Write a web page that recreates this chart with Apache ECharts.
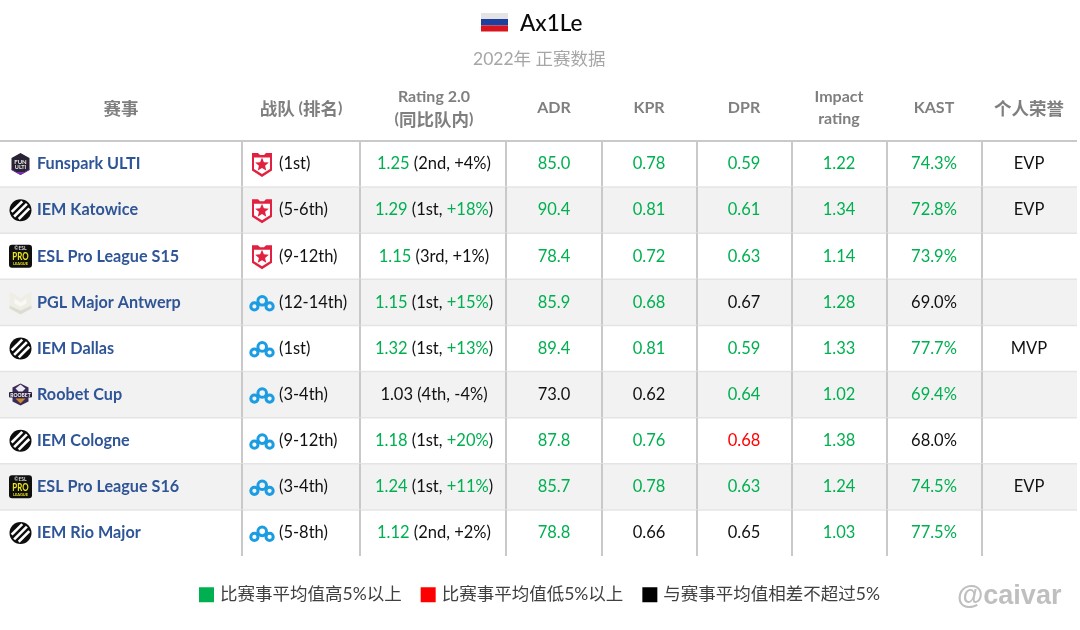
<!DOCTYPE html>
<html><head><meta charset="utf-8">
<script src="https://cdn.jsdelivr.net/npm/echarts@6/dist/echarts.min.js"></script>
<style>html,body{margin:0;padding:0;background:#fff}#c{width:1080px;height:630px}</style>
</head><body><div id="c"></div>
<script>
// ---- data ----
const playerName = 'Ax1Le';
const subtitle = '2022年 正赛数据';
const watermark = '@caivar';
const headers = ['赛事','战队 (排名)','Rating 2.0\n(同比队内)','ADR','KPR','DPR','Impact\nrating','KAST','个人荣誉'];
const events = ['Funspark ULTI','IEM Katowice','ESL Pro League S15','PGL Major Antwerp','IEM Dallas','Roobet Cup','IEM Cologne','ESL Pro League S16','IEM Rio Major'];
const eventLogos = ['funspark','iem','esl','pgl','iem','roobet','iem','esl','iem'];
const teams = ['gambit','gambit','gambit','cloud9','cloud9','cloud9','cloud9','cloud9','cloud9'];
const placings = ['(1st)','(5-6th)','(9-12th)','(12-14th)','(1st)','(3-4th)','(9-12th)','(3-4th)','(5-8th)'];
const ratings = ['1.25','1.29','1.15','1.15','1.32','1.03','1.18','1.24','1.12'];
const ratingStatus = ['g','g','g','g','g','k','g','g','g'];
const teamRanks = ['2nd','1st','3rd','1st','1st','4th','1st','1st','2nd'];
const teamDeltas = ['+4%','+18%','+1%','+15%','+13%','-4%','+20%','+11%','+2%'];
const deltaStatus = ['k','g','k','g','g','k','g','g','k'];
const adr = ['85.0','90.4','78.4','85.9','89.4','73.0','87.8','85.7','78.8'];
const adrStatus = ['g','g','g','g','g','k','g','g','g'];
const kpr = ['0.78','0.81','0.72','0.68','0.81','0.62','0.76','0.78','0.66'];
const kprStatus = ['g','g','g','g','g','k','g','g','k'];
const dpr = ['0.59','0.61','0.63','0.67','0.59','0.64','0.68','0.63','0.65'];
const dprStatus = ['g','g','g','k','g','g','r','g','k'];
const impact = ['1.22','1.34','1.14','1.28','1.33','1.02','1.38','1.24','1.03'];
const impactStatus = ['g','g','g','g','g','g','g','g','g'];
const kast = ['74.3%','72.8%','73.9%','69.0%','77.7%','69.4%','68.0%','74.5%','77.5%'];
const kastStatus = ['g','g','g','k','g','g','k','g','g'];
const honours = ['EVP','EVP','','','MVP','','','EVP',''];
const legendNames = {g:'比赛事平均值高5%以上', r:'比赛事平均值低5%以上', k:'与赛事平均值相差不超过5%'};

// ---- layout ----
const columnEdges = [0,242,360,506,602,697,792,887,982,1077];
const columnCenters = [121,301,434,554,649,744,839,934,1029];
const COL = {g:'#00b050', r:'#ff0000', k:'#111111'};
const FONT = 'Lato, "Noto Sans CJK SC", sans-serif';
const CELL = 16.5;

const metrics = [[3,adr,adrStatus],[4,kpr,kprStatus],[5,dpr,dprStatus],[6,impact,impactStatus],[7,kast,kastStatus]];
function statusRows(st){
  const out = [];
  metrics.forEach(([c,vals,sts]) => vals.forEach((v,i) => { if(sts[i]===st) out.push([columnCenters[c], i, v]); }));
  return out;
}
function statusSeries(st){
  const rows = statusRows(st);
  return {
    type:'custom', name:legendNames[st], coordinateSystem:'cartesian2d', clip:false,
    itemStyle:{color:st==='k'?'#000':COL[st]}, encode:{x:0,y:1}, z:5, silent:true,
    dimensions:['x','row',{name:'text',type:'ordinal'}],
    data:rows,
    renderItem(p,api){
      const r = rows[p.dataIndex], pt = api.coord([r[0], r[1]]);
      return {type:'text', x:pt[0], y:pt[1], style:{text:r[2], fill:COL[st], font:CELL+'px '+FONT, align:'center', verticalAlign:'middle'}};
    }
  };
}

// icons, drawn around the cell centre
function star(r){
  const pts=[]; for(let i=0;i<10;i++){const a=-Math.PI/2+i*Math.PI/5,q=i%2?r*0.45:r;pts.push([q*Math.cos(a),q*Math.sin(a)]);}
  return pts;
}
function gambit(){
  return [
    {type:'polygon',shape:{points:[[-10,-12],[-4,-12],[-2,-10],[2,-10],[4,-12],[10,-12],[10,5.5],[0,12],[-10,5.5]]},style:{fill:'#e1213f'}},
    {type:'polygon',shape:{points:[[-8,-7.5],[8,-7.5],[8,4],[0,9],[-8,4]]},style:{fill:'#fff'}},
    {type:'polygon',y:-0.3,shape:{points:star(7.2)},style:{fill:'#e1213f'}}
  ];
}
function cloud9(){
  const s={fill:'none',stroke:'#1b9ce3',lineWidth:3};
  return [
    {type:'circle',shape:{cx:-7.6,cy:3,r:3.6},style:s},
    {type:'circle',shape:{cx:0.2,cy:-2.6,r:4.3},style:s},
    {type:'circle',shape:{cx:7.6,cy:3,r:3.6},style:s}
  ];
}
function iem(){
  const kids=[{type:'circle',shape:{cx:0,cy:0,r:11},style:{fill:'#0d0d0d'}}];
  [-5,0,5].forEach(d=>{
    const h=Math.sqrt(81-d*d), u=Math.SQRT1_2;
    kids.push({type:'line',shape:{x1:d*u-h*u,y1:d*u+h*u,x2:d*u+h*u,y2:d*u-h*u},style:{stroke:'#fff',lineWidth:2.6}});
  });
  return kids;
}
function esl(){
  return [
    {type:'rect',shape:{x:-11.5,y:-11.5,width:23,height:23,r:3},style:{fill:'#0f0f0f'}},
    {type:'text',x:0,y:-7.8,style:{text:'©ESL',fill:'#ddd',font:'bold 5px Lato',align:'center',verticalAlign:'middle'}},
    {type:'text',x:0,y:0,scaleX:0.72,scaleY:1.1,style:{text:'PRO',fill:'#f0e61a',font:'bold 11px Lato',align:'center',verticalAlign:'middle'}},
    {type:'text',x:0,y:7.8,style:{text:'LEAGUE',fill:'#e8e01a',font:'bold 4px Lato',align:'center',verticalAlign:'middle'}}
  ];
}
function funspark(){
  return [
    {type:'polygon',shape:{points:[[0,-11],[9,-6],[9,6],[0,11],[-9,6],[-9,-6]]},style:{fill:'#2a2333'}},
    {type:'polygon',shape:{points:[[-9,5],[-4,8],[4,8],[9,5],[9,6],[0,11],[-9,6]]},style:{fill:'#7a2fc0'}},
    {type:'text',x:0,y:-2.2,style:{text:'FUN',fill:'#e8e8e8',font:'bold 6px Lato',align:'center',verticalAlign:'middle'}},
    {type:'text',x:0,y:3,style:{text:'ULTI',fill:'#e8e8e8',font:'bold 5.5px Lato',align:'center',verticalAlign:'middle'}}
  ];
}
function pgl(){
  return [
    {type:'polygon',shape:{points:[[-11,-11],[-5,-8],[0,-4],[5,-8],[11,-11],[11,3],[0,8],[-11,3]]},style:{fill:'#eeeee6'}},
    {type:'polygon',shape:{points:[[-11,3],[0,8],[11,3],[11,6],[0,12],[-11,6]]},style:{fill:'#dcdcd2'}},
    {type:'polygon',shape:{points:[[-6,-4],[0,0],[6,-4],[6,1],[0,4],[-6,1]]},style:{fill:'#f9f9f4'}}
  ];
}
function roobet(){
  return [
    {type:'polygon',shape:{points:[[0,-11],[8,-7],[8,7],[0,11],[-8,7],[-8,-7]]},style:{fill:'#3a2a58'}},
    {type:'polygon',shape:{points:[[-5,-6],[0,-10],[5,-6],[2,-3],[-2,-3]]},style:{fill:'#efe9f2'}},
    {type:'rect',shape:{x:-11.5,y:-2.5,width:23,height:5.5,r:1},style:{fill:'#2a1f3f'}},
    {type:'text',x:0,y:0.3,style:{text:'ROOBET',fill:'#fff',font:'bold 5px Lato',align:'center',verticalAlign:'middle'}},
    {type:'polygon',shape:{points:[[-5,4],[5,4],[0,9]]},style:{fill:'#d08a2e'}}
  ];
}
const ICONS={gambit,cloud9,iem,esl,funspark,pgl,roobet};
function icon(name,x,y){return {type:'group',x,y,children:ICONS[name]()};}

const headerRich={
  c:{fill:'#7f7f7f',font:'bold 17.5px "Noto Sans CJK SC"',lineHeight:22},
  l:{fill:'#7f7f7f',font:'bold 16px Lato',lineHeight:22}
};
function headerText(t){
  return t.split('\n').map(line=>line.split(/([\u4e00-\u9fff]+)/).filter(Boolean)
    .map(s=>/[\u4e00-\u9fff]/.test(s)?'{c|'+s+'}':'{l|'+s+'}').join('')).join('\n');
}

const rowIdx = events.map((_,i)=>i);

const option = {
  animation:false, backgroundColor:'#fff',
  title:[
    {text:playerName,left:515,top:7,textStyle:{fontFamily:FONT,fontSize:22.5,fontWeight:500,color:'#0a0a0a'}},
    {text:subtitle,left:468,top:46,textStyle:{fontFamily:FONT,fontSize:17.5,fontWeight:'normal',color:'#a6a6a6'}},
    {text:watermark,left:952,top:578,textStyle:{fontFamily:'"Liberation Sans",sans-serif',fontSize:27,fontWeight:'bold',color:'#bfbfbf'}}
  ],
  graphic:[
    {type:'group',left:481,top:13,children:[
      {type:'rect',shape:{x:0,y:0,width:27,height:6},style:{fill:'#e4e4e4'}},
      {type:'rect',shape:{x:0,y:6,width:27,height:6.5},style:{fill:'#1d3f9e'}},
      {type:'rect',shape:{x:0,y:12.5,width:27,height:6},style:{fill:'#d8141f'}}
    ]}
  ],
  legend:{
    left:194, top:581, itemWidth:15, itemHeight:15, itemGap:19, icon:'rect',
    data:[legendNames.g,legendNames.r,legendNames.k], selectedMode:false,
    textStyle:{fontFamily:FONT,fontSize:17.5,color:'#404040',padding:[1,0,0,1]}
  },
  grid:{left:0,right:0,top:141,bottom:74},
  xAxis:{type:'value',min:0,max:1080,show:false},
  yAxis:{type:'category',inverse:true,data:rowIdx,show:false},
  series:[
    { // table frame: stripes and rules
      type:'custom',clip:false,silent:true,z:1,data:rowIdx,encode:{y:0},
      renderItem(p,api){
        const i=p.dataIndex, c=api.coord([0,i]), h=api.size([0,1])[1], L=columnEdges[0], R=columnEdges[9];
        const top=c[1]-h/2, kids=[];
        if(i%2===1) kids.push({type:'rect',shape:{x:L,y:top,width:R-L,height:h},style:{fill:'#f2f2f2'}});
        if(i>0) kids.push({type:'line',shape:{x1:L,y1:top,x2:R,y2:top},style:{stroke:'#e4e4e4',lineWidth:1.5}});
        columnEdges.slice(1,9).forEach(x=>kids.push({type:'line',shape:{x1:x,y1:top,x2:x,y2:top+h},style:{stroke:'#c9c9c9',lineWidth:2}}));
        if(i===0) kids.push({type:'line',shape:{x1:L,y1:top,x2:R,y2:top},style:{stroke:'#c9c9c9',lineWidth:2}});
        return {type:'group',children:kids};
      }
    },
    { // header row
      type:'custom',clip:false,silent:true,z:4,data:headers.map((_,i)=>i),encode:{x:0},
      renderItem(p,api){
        const i=p.dataIndex, base=api.coord([columnCenters[i],0]), h=api.size([0,1])[1];
        return {type:'text',x:base[0],y:base[1]-h/2-33,style:{text:headerText(headers[i]),rich:headerRich,align:'center',verticalAlign:'middle'}};
      }
    },
    { // event + team columns
      type:'custom',clip:false,silent:true,z:4,data:rowIdx,encode:{y:0},
      renderItem(p,api){
        const i=p.dataIndex, y=api.coord([0,i])[1];
        const xe=api.coord([columnEdges[0],0])[0], xt=api.coord([columnEdges[1],0])[0];
        return {type:'group',children:[
          icon(eventLogos[i],xe+20.5,y),
          {type:'text',x:xe+37,y,style:{text:events[i],fill:'#2f5597',font:'bold 16.2px '+FONT,align:'left',verticalAlign:'middle'}},
          icon(teams[i],xt+20,y+1),
          {type:'text',x:xt+37,y,style:{text:placings[i],fill:COL.k,font:CELL+'px '+FONT,align:'left',verticalAlign:'middle'}}
        ]};
      }
    },
    { // rating column with mixed colours
      type:'custom',clip:false,silent:true,z:4,data:rowIdx,encode:{y:0},
      renderItem(p,api){
        const i=p.dataIndex, pt=api.coord([columnCenters[2],i]);
        const rich={g:{fill:COL.g,font:CELL+'px '+FONT},k:{fill:COL.k,font:CELL+'px '+FONT}};
        const t='{'+ratingStatus[i]+'|'+ratings[i]+'}{k| ('+teamRanks[i]+', }{'+deltaStatus[i]+'|'+teamDeltas[i]+'}{k|)}';
        return {type:'text',x:pt[0],y:pt[1],style:{text:t,rich,align:'center',verticalAlign:'middle',font:CELL+'px '+FONT}};
      }
    },
    { // honours column
      type:'custom',clip:false,silent:true,z:4,data:rowIdx,encode:{y:0},
      renderItem(p,api){
        const i=p.dataIndex, pt=api.coord([columnCenters[8],i]);
        return {type:'text',x:pt[0],y:pt[1],style:{text:honours[i],fill:COL.k,font:CELL+'px '+FONT,align:'center',verticalAlign:'middle'}};
      }
    },
    statusSeries('g'),statusSeries('r'),statusSeries('k')
  ]
};
const chart = echarts.init(document.getElementById('c'),null,{renderer:'canvas'});
chart.setOption(option);
</script>
</body></html>
